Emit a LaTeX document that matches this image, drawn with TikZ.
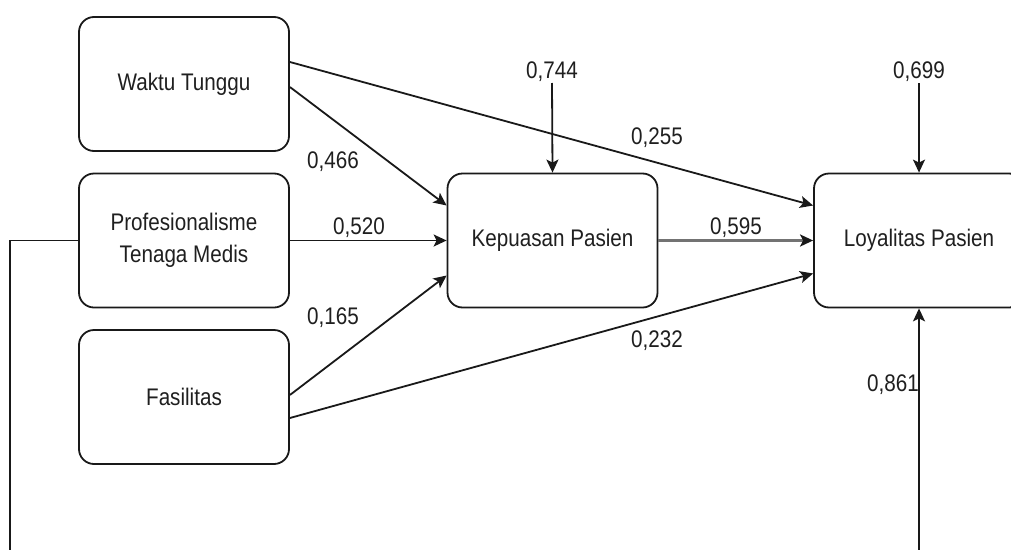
\documentclass[tikz,border=0pt]{standalone}
\usepackage{fontspec}
\setmainfont{Liberation Sans}
\usepackage{graphicx}
\usetikzlibrary{arrows.meta,calc}
\newcommand{\sq}[1]{\scalebox{0.86}[1]{#1}}
\begin{document}
\begin{tikzpicture}[x=1pt,y=-1pt,
  box/.style={draw=black!90,line width=1.8pt,rounded corners=15pt,minimum width=210pt,minimum height=134pt,inner sep=0pt,align=center,text=black!88,font=\fontsize{24}{31}\selectfont},
  lbl/.style={inner sep=0pt,text=black!88,font=\fontsize{24}{28}\selectfont},
  conn/.style={draw=black!90,line width=1.8pt,-{Stealth[length=13pt,width=12pt,inset=3pt]}},
  plain/.style={draw=black!90,line width=1.8pt}]
\useasboundingbox (0,0) rectangle (1011,549);
\clip (0,0) rectangle (1011,549);
\fill[white] (0,0) rectangle (1011,549);
\node[box] (wt) at (184,84) {\sq{Waktu Tunggu}};
\node[box] (pm) at (184,240.5) {\sq{\begin{tabular}{@{}c@{}}Profesionalisme\\[1pt]Tenaga Medis\end{tabular}}};
\node[box] (fs) at (184,397) {\sq{Fasilitas}};
\node[box] (kp) at (552.5,240.5) {\sq{Kepuasan Pasien}};
\node[box] (lp) at (919,240.5) {\sq{Loyalitas Pasien}};
\coordinate (e1) at (552,83);
\coordinate (e2) at (919,83);
\coordinate (e3) at (919,560);
\coordinate (c1) at (10,240.5);
\coordinate (c2) at (10,560);
\draw[conn] ($(wt.east)+(0,3)$) -- ($(kp.west)+(0,-35)$);
\draw[conn] ($(wt.east)+(0,-22)$) -- ($(lp.west)+(0,-35)$);
\draw[conn] (pm.east) -- (kp.west);
\draw[conn] ($(fs.east)+(0,-2)$) -- ($(kp.west)+(0,35)$);
\draw[conn] ($(fs.east)+(0,21)$) -- ($(lp.west)+(0,33)$);
\draw[draw=black!55,line width=3pt,-{Stealth[length=13pt,width=12pt,inset=3pt,color=black!90]}] (kp.east) -- (lp.west);
\draw[conn] (e1) -- (kp.north);
\draw[conn] (e2) -- (lp.north);
\draw[conn] (e3) -- (lp.south);
\draw[plain] (pm.west) -- (c1) -- (c2);
\node[lbl] (l1) at (333,162) {\sq{0,466}};
\node[lbl] (l2) at (359,228) {\sq{0,520}};
\node[lbl] (l3) at (333,318) {\sq{0,165}};
\node[lbl] (l4) at (657,138) {\sq{0,255}};
\node[lbl] (l5) at (736,228) {\sq{0,595}};
\node[lbl] (l6) at (657,341) {\sq{0,232}};
\node[lbl] (l7) at (552,72) {\sq{0,744}};
\node[lbl] (l8) at (919,72) {\sq{0,699}};
\node[lbl] (l9) at (893,385) {\sq{0,861}};
\end{tikzpicture}
\end{document}
